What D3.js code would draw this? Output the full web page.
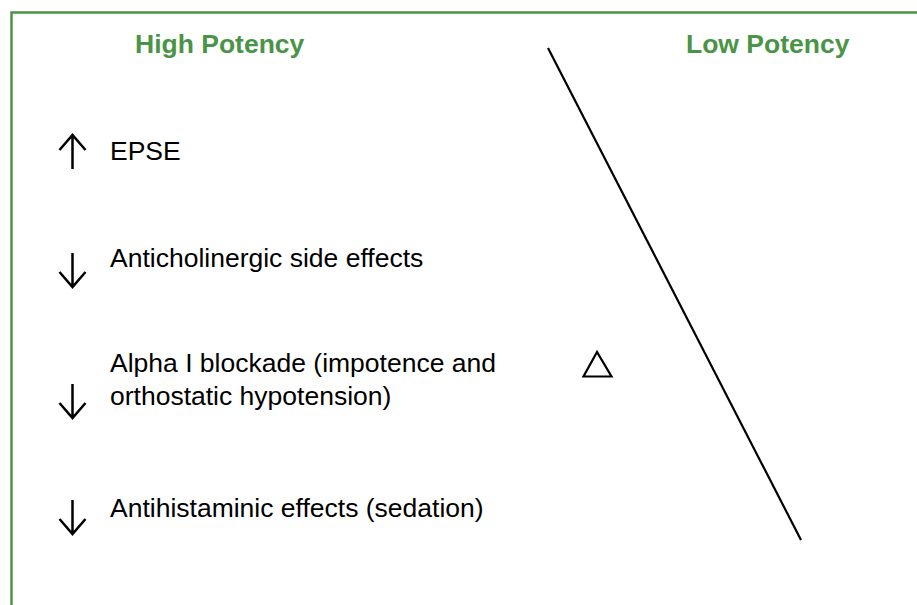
<!DOCTYPE html>
<html>
<head>
    <style>
        body { margin: 0; background: #fff; }
        .head { font: bold 26.5px "Liberation Sans", Arial, sans-serif; fill: #4a9447; }
        .item { font: 26.5px "Liberation Sans", Arial, sans-serif; fill: #000; }
        .arrow { stroke: #000; stroke-width: 2.5; fill: none; }
    </style>
    <script src="https://d3js.org/d3.v7.min.js"></script>
</head>
<body>
    <svg width="917" height="605"></svg>
    <script>

        // headings over the two ends of the scale
        var headings = ["High Potency", "Low Potency"];
        var headingX = [135, 686];

        // effects listed for the high potency end: arrow direction, text lines, baseline, arrow centre
        var effects = [
            { dir: "up", lines: ["EPSE"], y: 160, arrowY: 152 },
            { dir: "down", lines: ["Anticholinergic side effects"], y: 267, arrowY: 270 },
            { dir: "down", lines: ["Alpha I blockade (impotence and", "orthostatic hypotension)"], y: 372, arrowY: 401 },
            { dir: "down", lines: ["Antihistaminic effects (sedation)"], y: 517, arrowY: 517 }
        ];

        // the diagonal: potency runs from high (0) to low (1)
        var potency = [0, 1];

        var svg = d3.select("svg");

        // green frame (right and bottom run off the page)
        svg.append("rect")
           .attr("x", 11.5).attr("y", 12.5)
           .attr("width", 1000).attr("height", 700)
           .attr("fill", "none")
           .attr("stroke", "#4a9447")
           .attr("stroke-width", 2.5);

        svg.selectAll(".head")
           .data(headings)
           .enter().append("text")
           .attr("class", "head")
           .attr("x", function(d, i) { return headingX[i]; })
           .attr("y", 53)
           .text(function(d) { return d; });

        var x = d3.scaleLinear().domain([0, 1]).range([548, 801]);
        var y = d3.scaleLinear().domain([0, 1]).range([48, 540]);

        svg.append("path")
           .datum(potency)
           .attr("d", d3.line().x(function(d) { return x(d); }).y(function(d) { return y(d); }))
           .attr("stroke", "#000")
           .attr("stroke-width", 2.2)
           .attr("fill", "none");

        // delta sign
        svg.append("path")
           .attr("d", "M597,352L583.5,376.5L611.5,376.5Z")
           .attr("stroke", "#000")
           .attr("stroke-width", 2.2)
           .attr("fill", "none");

        var lineGap = 33;
        var g = svg.selectAll(".effect")
                   .data(effects)
                   .enter().append("g")
                   .attr("class", "effect");

        g.append("text")
         .attr("class", "item")
         .attr("x", 110)
         .attr("y", function(d) { return d.y; })
         .selectAll("tspan")
         .data(function(d) { return d.lines; })
         .enter().append("tspan")
         .attr("x", 110)
         .attr("dy", function(d, i) { return i === 0 ? 0 : lineGap; })
         .text(function(d) { return d; });

        g.append("path")
         .attr("class", "arrow")
         .attr("d", function(d) {
             var top = d.arrowY - 17, bot = d.arrowY + 17, cx = 72.5;
             if (d.dir === "up") {
                 return "M" + cx + "," + bot + "V" + top + "M" + (cx - 13) + "," + (top + 15) + "L" + cx + "," + top + "L" + (cx + 13) + "," + (top + 15);
             }
             return "M" + cx + "," + top + "V" + bot + "M" + (cx - 13) + "," + (bot - 15) + "L" + cx + "," + bot + "L" + (cx + 13) + "," + (bot - 15);
         });
    </script>
</body>
</html>
